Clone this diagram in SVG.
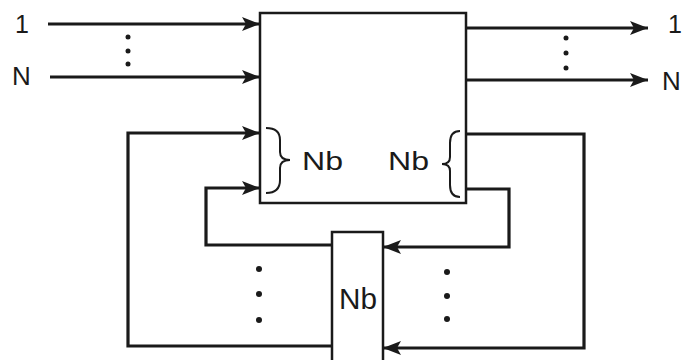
<svg xmlns="http://www.w3.org/2000/svg" width="683" height="360" viewBox="0 0 683 360">
<style>
.box{fill:#fff;stroke:#1a1a1a;stroke-width:2.5}
.ln{fill:none;stroke:#1a1a1a;stroke-width:3.2;stroke-linejoin:miter}
.br{fill:none;stroke:#1a1a1a;stroke-width:2}
.t{font-family:"Liberation Sans",Arial,sans-serif;fill:#1a1a1a}
.dot{fill:#1a1a1a}
</style>
<defs>
<marker id="ah" viewBox="0 0 18 14" refX="18" refY="7" markerWidth="18" markerHeight="14" markerUnits="userSpaceOnUse" orient="auto">
<path d="M0,0 L18,7 L0,14 L4,7 Z" fill="#1a1a1a"/>
</marker>
</defs>
<rect width="683" height="360" fill="#fff"/>
<g id="connectors">
<line class="ln" x1="48" y1="24" x2="260" y2="24" marker-end="url(#ah)"/>
<line class="ln" x1="50" y1="77" x2="260" y2="77" marker-end="url(#ah)"/>
<line class="ln" x1="466" y1="28" x2="648" y2="28" marker-end="url(#ah)"/>
<line class="ln" x1="466" y1="80" x2="648" y2="80" marker-end="url(#ah)"/>
<polyline class="ln" points="466,134 584,134 584,348 383,348" marker-end="url(#ah)"/>
<polyline class="ln" points="466,189 509,189 509,247 383,247" marker-end="url(#ah)"/>
<polyline class="ln" points="332,346 128,346 128,133 260,133" marker-end="url(#ah)"/>
<polyline class="ln" points="332,245 206,245 206,188 260,188" marker-end="url(#ah)"/>
</g>
<g id="main">
<rect class="box" x="260" y="13" width="206" height="190"/>
<path class="br" d="M266,128 Q280,128 280,140 L280,152 Q280,160 290,160 Q280,160 280,168 L280,180 Q280,193 266,193"/>
<path class="br" d="M460,131 Q450,131 450,143 L450,157 Q450,164 442,164 Q450,164 450,171 L450,185 Q450,197 460,197"/>
<text class="t" x="302" y="170" font-size="25" textLength="41" lengthAdjust="spacingAndGlyphs">Nb</text>
<text class="t" x="388" y="170" font-size="25" textLength="41" lengthAdjust="spacingAndGlyphs">Nb</text>
</g>
<g id="nb">
<rect class="box" x="332" y="232" width="51" height="140"/>
<text class="t" x="339" y="309" font-size="29" textLength="38" lengthAdjust="spacingAndGlyphs">Nb</text>
</g>
<g id="labels">
<text class="t" x="15" y="33" font-size="25">1</text>
<text class="t" x="12" y="85" font-size="26">N</text>
<text class="t" x="668" y="33" font-size="25">1</text>
<text class="t" x="662" y="90" font-size="26">N</text>
</g>
<g id="dots">
<circle class="dot" cx="128" cy="37" r="2.5"/>
<circle class="dot" cx="128" cy="51" r="2.5"/>
<circle class="dot" cx="128" cy="64" r="2.5"/>
<circle class="dot" cx="566" cy="38" r="2.5"/>
<circle class="dot" cx="566" cy="53" r="2.5"/>
<circle class="dot" cx="566" cy="68" r="2.5"/>
<circle class="dot" cx="259" cy="269" r="3"/>
<circle class="dot" cx="259" cy="294" r="3"/>
<circle class="dot" cx="259" cy="320" r="3"/>
<circle class="dot" cx="447" cy="272" r="3"/>
<circle class="dot" cx="447" cy="296" r="3"/>
<circle class="dot" cx="447" cy="319" r="3"/>
</g>
</svg>
